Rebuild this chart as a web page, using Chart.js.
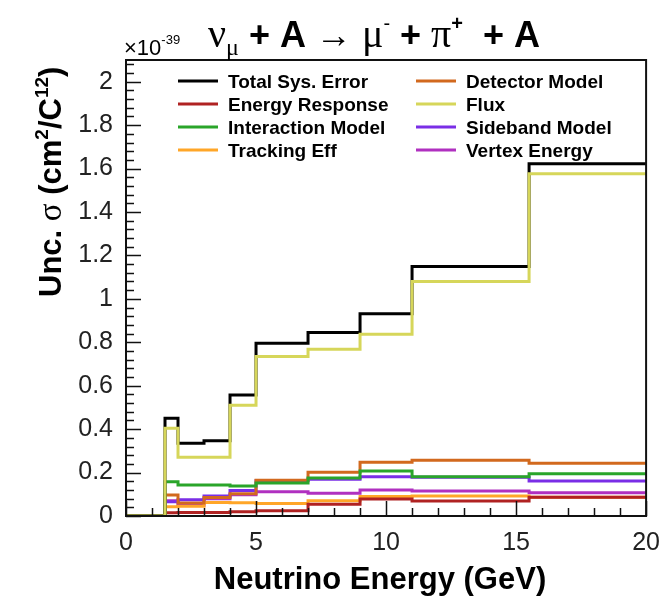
<!DOCTYPE html>
<html lang="en">
<head>
<meta charset="UTF-8">
<title>Systematic uncertainty vs neutrino energy</title>
<script src="https://cdn.jsdelivr.net/npm/chart.js"></script>
<style>
  html, body { margin: 0; padding: 0; background: #fff; }
  #wrap { width: 664px; height: 598px; position: relative; }
</style>
</head>
<body>
<div id="wrap"><canvas id="uncChart"></canvas></div>
<script>
// bin edges in GeV (last bin 15.5 - 20)
const binEdges = [0, 1.5, 2, 3, 4, 5, 7, 9, 11, 15.5, 20];

// one value per bin, units of 1e-39 cm^2 / C^12
const totalSys    = [0, 0.450, 0.335, 0.347, 0.557, 0.796, 0.845, 0.931, 1.149, 1.622];
const detector    = [0, 0.097, 0.060, 0.085, 0.103, 0.165, 0.202, 0.248, 0.257, 0.243];
const energyResp  = [0, 0.015, 0.016, 0.016, 0.020, 0.024, 0.054, 0.078, 0.069, 0.086];
const flux        = [0, 0.404, 0.270, 0.270, 0.510, 0.734, 0.768, 0.837, 1.080, 1.576];
const interaction = [0, 0.158, 0.143, 0.143, 0.138, 0.152, 0.175, 0.207, 0.181, 0.194];
const sideband    = [0, 0.066, 0.075, 0.092, 0.117, 0.162, 0.169, 0.181, 0.178, 0.161];
const tracking    = [0, 0.043, 0.045, 0.062, 0.061, 0.058, 0.070, 0.090, 0.092, 0.086];
const vertexE     = [0, 0.070, 0.050, 0.080, 0.098, 0.112, 0.105, 0.120, 0.115, 0.107];

const xTicks = [0, 5, 10, 15, 20];
const yTicks = [0, 0.2, 0.4, 0.6, 0.8, 1, 1.2, 1.4, 1.6, 1.8, 2];
const yTickLabels = ['0', '0.2', '0.4', '0.6', '0.8', '1', '1.2', '1.4', '1.6', '1.8', '2'];

// ROOT legend fills row by row, 2 columns; z = draw order (lower on top)
const series = [
  { label: 'Total Sys. Error',  data: totalSys,    color: '#000000', z: 1 },
  { label: 'Detector Model',    data: detector,    color: '#d2691e', z: 3 },
  { label: 'Energy Response',   data: energyResp,  color: '#b02222', z: 3 },
  { label: 'Flux',              data: flux,        color: '#d6d65a', z: 0 },
  { label: 'Interaction Model', data: interaction, color: '#2aa52a', z: 2 },
  { label: 'Sideband Model',    data: sideband,    color: '#7a2ee6', z: 3 },
  { label: 'Tracking Eff',      data: tracking,    color: '#ffa628', z: 3 },
  { label: 'Vertex Energy',     data: vertexE,     color: '#b030c0', z: 3 }
];

// point at each low edge + closing point at the last edge
function histPoints(vals) {
  const pts = vals.map((v, i) => ({ x: binEdges[i], y: v }));
  pts.push({ x: binEdges[binEdges.length - 1], y: vals[vals.length - 1] });
  return pts;
}

// draws a run of text pieces along one baseline
function drawRich(ctx, x, y, parts) {
  let cx = x;
  parts.forEach(([t, font, dy]) => {
    ctx.font = font;
    ctx.fillText(t, cx, y + (dy || 0));
    cx += ctx.measureText(t).width;
  });
  return cx;
}

const rootFrame = {
  id: 'rootFrame',
  afterDatasetsDraw(chart) {
    const { ctx, chartArea: a, scales: { x, y } } = chart;
    ctx.save();
    ctx.strokeStyle = '#111';
    ctx.lineWidth = 2;
    ctx.strokeRect(a.left, a.top, a.right - a.left, a.bottom - a.top);

    ctx.lineWidth = 1.5;
    ctx.beginPath();
    // y ticks (inside, left side)
    for (let v = 0; v <= 2.1 + 1e-9; v += 0.04) {
      const py = Math.round(y.getPixelForValue(v)) + 0.5;
      const major = Math.abs(v / 0.2 - Math.round(v / 0.2)) < 1e-6;
      ctx.moveTo(a.left, py);
      ctx.lineTo(a.left + (major ? 15 : 8), py);
    }
    // x ticks (inside, bottom)
    for (let v = 0; v <= 20; v += 1) {
      const px = Math.round(x.getPixelForValue(v)) + 0.5;
      const major = v % 5 === 0;
      ctx.moveTo(px, a.bottom);
      ctx.lineTo(px, a.bottom - (major ? 15 : 8));
    }
    ctx.stroke();
    ctx.restore();
  },
  afterDraw(chart) {
    const { ctx, chartArea: a } = chart;
    ctx.save();
    ctx.fillStyle = '#000';
    ctx.textBaseline = 'alphabetic';

    // legend
    const rowY = [81, 104, 127, 150];
    const colX = [178, 416];
    chart.data.datasets.forEach((ds, i) => {
      const r = Math.floor(i / 2), c = i % 2;
      const ly = rowY[r];
      ctx.strokeStyle = ds.borderColor;
      ctx.lineWidth = 3;
      ctx.beginPath();
      ctx.moveTo(colX[c], ly);
      ctx.lineTo(colX[c] + 40, ly);
      ctx.stroke();
      ctx.font = 'bold 19px "Liberation Sans"';
      ctx.fillText(ds.label, colX[c] + 50, ly + 7);
    });

    // exponent above the y axis
    drawRich(ctx, a.left - 2, 55, [
      ['\u00d710', '22px "Liberation Sans"'],
      ['-39', '13px "Liberation Sans"', -11]
    ]);

    // plot title
    const serif = '"Liberation Serif"';
    const bold = 'bold 36px "Liberation Sans"';
    drawRich(ctx, 208, 47, [
      ['\u03bd', '40px ' + serif],
      ['\u03bc', '24px ' + serif, 8],
      [' + A ', bold],
      ['\u2192', '36px ' + serif],
      [' \u03bc', '40px ' + serif],
      ['-', '20px "Liberation Sans"', -17],
      [' + ', bold],
      ['\u03c0', '40px ' + serif],
      ['+', 'bold 20px "Liberation Sans"', -17],
      ['  + A', bold]
    ]);

    // x axis title
    ctx.font = 'bold 31px "Liberation Sans"';
    ctx.textAlign = 'center';
    ctx.fillText('Neutrino Energy (GeV)', 380, 589);
    ctx.textAlign = 'left';

    // y axis title, rotated, ends at top of axis
    ctx.translate(61, 297);
    ctx.rotate(-Math.PI / 2);
    drawRich(ctx, 0, 0, [
      ['Unc. ', 'bold 31px "Liberation Sans"'],
      ['\u03c3', '33px ' + serif],
      [' (cm', 'bold 31px "Liberation Sans"'],
      ['2', 'bold 19px "Liberation Sans"', -13],
      ['/C', 'bold 31px "Liberation Sans"'],
      ['12', 'bold 19px "Liberation Sans"', -13],
      [')', 'bold 31px "Liberation Sans"']
    ]);
    ctx.restore();
  }
};

new Chart(document.getElementById('uncChart'), {
  type: 'line',
  data: {
    datasets: series.map(s => ({
      label: s.label,
      data: histPoints(s.data),
      borderColor: s.color,
      backgroundColor: s.color,
      borderWidth: 3,
      stepped: 'before',
      pointRadius: 0,
      fill: false,
      order: s.z
    }))
  },
  options: {
    responsive: true,
    maintainAspectRatio: false,
    animation: false,
    layout: { padding: { top: 60, right: 17, left: 0, bottom: 0 } },
    plugins: {
      legend: { display: false },
      tooltip: { enabled: false },
      title: { display: false }
    },
    scales: {
      x: {
        type: 'linear',
        min: 0,
        max: 20,
        grid: { display: false },
        border: { display: false },
        afterBuildTicks: s => { s.ticks = xTicks.map(v => ({ value: v })); },
        afterFit: s => { s.height = 82; },
        ticks: {
          maxRotation: 0,
          padding: 4,
          color: '#222',
          font: { family: 'Liberation Sans', size: 25 }
        }
      },
      y: {
        type: 'linear',
        min: 0,
        max: 2.1,
        grid: { display: false },
        border: { display: false },
        afterBuildTicks: s => { s.ticks = yTicks.map(v => ({ value: v })); },
        afterFit: s => { s.width = 126; },
        ticks: {
          padding: 5,
          color: '#222',
          font: { family: 'Liberation Sans', size: 25 },
          callback: (v, i) => yTickLabels[i]
        }
      }
    }
  },
  plugins: [rootFrame]
});
</script>
</body>
</html>
